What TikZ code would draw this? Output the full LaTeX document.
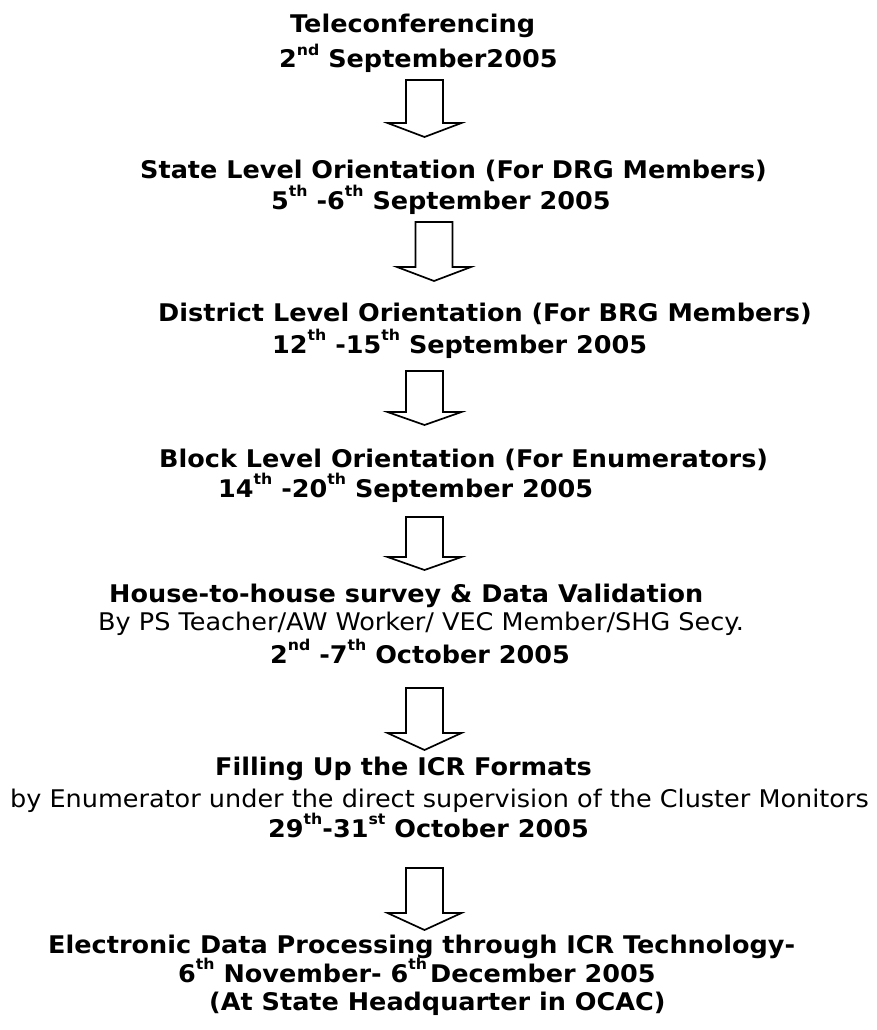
\documentclass[tikz,border=0pt]{standalone}
\usepackage{fontspec}
\setmainfont{DejaVu Sans}[FakeStretch=1.05]
% small raised ordinal suffix
\newcommand\sps[1]{\raisebox{12.5pt}{\fontsize{15}{15}\selectfont #1}}
% block arrow hanging down from a named coordinate: shaft length, head length
\newcommand\blockarrowat[3]{%
  \draw[blockarr] (#1) ++(-18.5,0) -- ++(37,0) -- ++(0,#2) -- ++(18.5,0)
    -- ++(-37,#3) -- ++(-37,-#3) -- ++(18.5,0) -- cycle;}
\tikzset{
  boldline/.style={anchor=base west, inner sep=0pt, font=\fontsize{24.3}{29}\selectfont\bfseries},
  plainline/.style={anchor=base west, inner sep=0pt, font=\fontsize{24.3}{29}\selectfont},
  blockarr/.style={draw=black, line width=1.7pt, fill=white, line join=miter},
}
\begin{document}
\begin{tikzpicture}[x=1pt,y=-1pt]
\useasboundingbox (0,0) rectangle (877,1030);

\node[boldline] (t1) at (290,33) {Teleconferencing};
\node[boldline] (t2) at (279,68) {2\sps{nd} September2005};

\node[boldline] (s1) at (140,178) {State Level Orientation (For DRG Members)};
\node[boldline] (s2) at (271,209) {5\sps{th} -6\sps{th} September 2005};

\node[boldline] (d1) at (158,321) {District Level Orientation (For BRG Members)};
\node[boldline] (d2) at (272,353) {12\sps{th} -15\sps{th} September 2005};

\node[boldline] (b1) at (159,467) {Block Level Orientation (For Enumerators)};
\node[boldline] (b2) at (218,497) {14\sps{th} -20\sps{th} September 2005};

\node[boldline] (h1) at (109,602) {House-to-house survey \& Data Validation};
\node[plainline] (h2) at (98,630) {By PS Teacher/AW Worker/ VEC Member/SHG Secy.};
\node[boldline] (h3) at (270,663) {2\sps{nd} -7\sps{th} October 2005};

\node[boldline] (f1) at (215,775) {Filling Up the ICR Formats};
\node[plainline] (f2) at (10,807) {by Enumerator under the direct supervision of the Cluster Monitors};
\node[boldline] (f3) at (268,837) {29\sps{th}-31\sps{st} October 2005};

\node[boldline] (e1) at (48,953) {Electronic Data Processing through ICR Technology-};
\node[boldline] (e2) at (178,982) {6\sps{th} November- 6\sps{th}\hspace{3pt}December 2005};
\node[boldline] (e3) at (209,1010) {(At State Headquarter in OCAC)};

% arrow tops
\coordinate (a1) at (424.5,80);
\coordinate (a2) at (434,222);
\coordinate (a3) at (424.5,371);
\coordinate (a4) at (424.5,517);
\coordinate (a5) at (424.5,688);
\coordinate (a6) at (424.5,868);

\blockarrowat{a1}{43}{14}
\blockarrowat{a2}{45}{14}
\blockarrowat{a3}{41}{13}
\blockarrowat{a4}{40}{13}
\blockarrowat{a5}{45}{17}
\blockarrowat{a6}{45}{17}
\end{tikzpicture}
\end{document}
